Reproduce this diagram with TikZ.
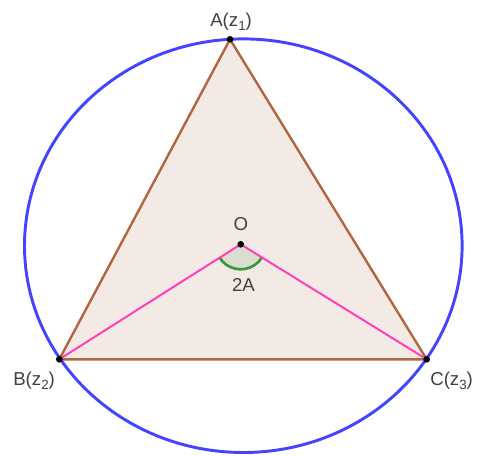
\documentclass[tikz,border=0pt]{standalone}
\usepackage{fontspec}
\setmainfont{Liberation Sans}
\usetikzlibrary{positioning}
\definecolor{circblue}{RGB}{68,68,255}
\definecolor{sidebrown}{RGB}{176,102,62}
\definecolor{trifill}{RGB}{243,234,230}
\definecolor{radpink}{RGB}{255,64,184}
\definecolor{arcgreen}{RGB}{60,150,60}
\definecolor{arcfill}{RGB}{218,222,208}
\newcommand{\sbs}[1]{\raisebox{-0.45ex}{\fontsize{10}{12}\selectfont #1}}
\begin{document}
\begin{tikzpicture}[
    x=0.75pt, y=0.75pt,
    every node/.style={font=\fontsize{14}{16}\selectfont, text=black!75, inner sep=0pt},
    side/.style={sidebrown, line width=1.8pt, line join=round},
    radius line/.style={radpink, line width=1.5pt},
    pt/.style={circle, fill=black, minimum size=5pt, inner sep=0pt},
    lbl/.style={anchor=base west}
]
\useasboundingbox (0,0) rectangle (478,455);

% Points
\coordinate (A) at (230,415.7);
\coordinate (B) at (59.3,95.7);
\coordinate (C) at (426.7,95.7);
\coordinate (O) at (240.7,210.7);

% Triangle
\fill[trifill] (A) -- (B) -- (C) -- cycle;

% Angle 2A at O
\fill[arcfill] (O) -- ++(212.4:25) arc[start angle=212.4, end angle=328.3, x radius=25, y radius=25] -- cycle;
\draw[arcgreen, line width=2pt] (O) ++(212.4:25) arc[start angle=212.4, end angle=328.3, x radius=25, y radius=25];

% Radii
\draw[radius line] (B) -- (O) -- (C);

% Sides
\draw[side] (A) -- (B) -- (C) -- cycle;

% Circumcircle
\draw[circblue, line width=2.2pt] (243.3,209.3) ellipse[x radius=218.8, y radius=206.8];

% Dots
\foreach \p in {A,B,C,O} {
    \node[pt] at (\p) {};
}

% Labels
\node[lbl] (labA) at (210,429) {A(z\sbs{1})};
\node[anchor=base] (labO) at (241,224.3) {O};
\node[anchor=base] (labAng) at (243.5,163.5) {2A};
\node[lbl] (labB) at (13,70) {B(z\sbs{2})};
\node[lbl] (labC) at (430,70) {C(z\sbs{3})};

\end{tikzpicture}
\end{document}
